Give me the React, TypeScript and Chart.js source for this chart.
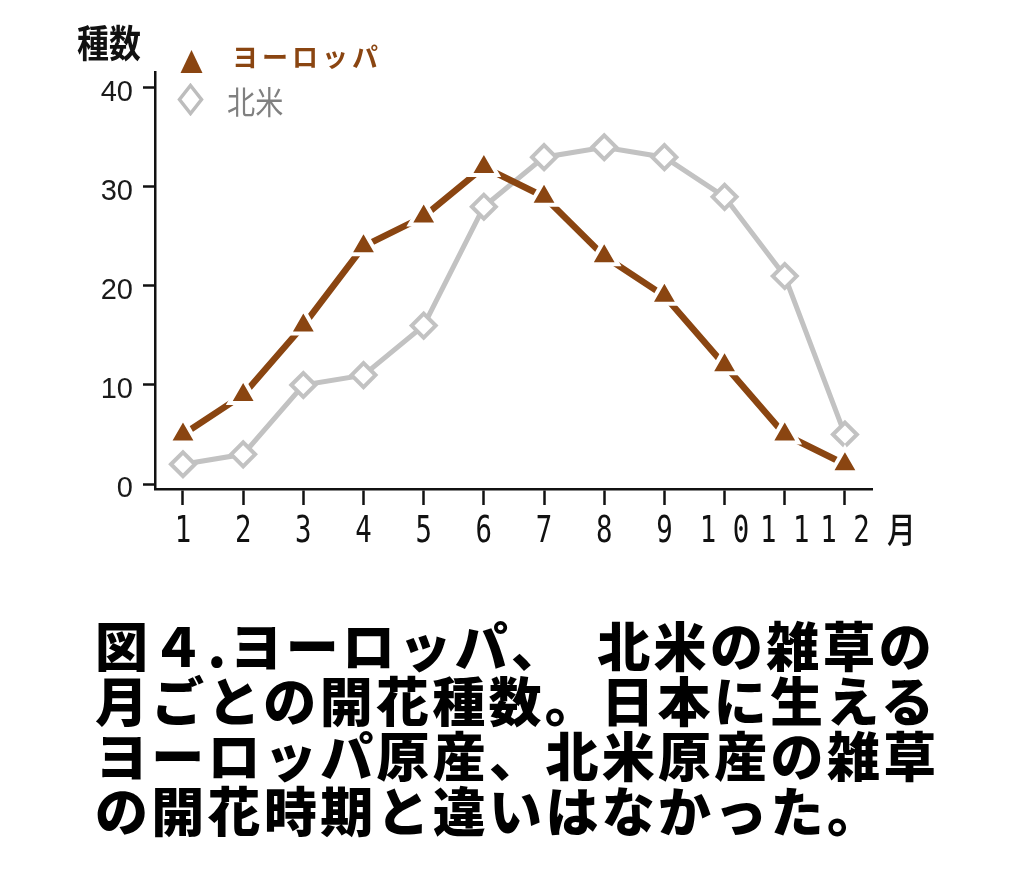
import React, { useEffect, useRef } from "react";
import { Chart, registerables } from "chart.js";

Chart.register(...registerables);

const months = [1, 2, 3, 4, 5, 6, 7, 8, 9, 10, 11, 12];
const monthLabels = ["1", "2", "3", "4", "5", "6", "7", "8", "9", "1 0", "1 1", "1 2"];
const europe = [5, 9, 16, 24, 27, 32, 29, 23, 19, 12, 5, 2];
const northAmerica = [2, 3, 10, 11, 16, 28, 33, 34, 33, 29, 21, 5];
const yTicks = [0, 10, 20, 30, 40];

const BROWN = "#8a4511";
const GRAY = "#c2c2c2";

const xLabelPlugin = {
  id: "xLabelPlugin",
  afterDraw(chart: any) {
    const s = chart.scales.x;
    const ctx = chart.ctx;
    const y = s.bottom - s.height + 53;
    ctx.save();
    ctx.font = "37px 'DejaVu Sans Mono'";
    ctx.fillStyle = "#111";
    ctx.textAlign = "center";
    ctx.textBaseline = "alphabetic";
    months.forEach((m, i) => {
      const x = s.getPixelForValue(m);
      ctx.save();
      ctx.translate(x, y);
      ctx.scale(0.74, 1);
      ctx.fillText(monthLabels[i], 0, 0);
      ctx.restore();
    });
    ctx.restore();
  },
};

export default function App() {
  const ref = useRef<HTMLCanvasElement | null>(null);

  useEffect(() => {
    if (!ref.current) return;
    const chart = new Chart(ref.current, {
      type: "line",
      data: {
        datasets: [
          {
            label: "ヨーロッパ",
            data: months.map((m, i) => ({ x: m, y: europe[i] })),
            borderColor: BROWN,
            borderWidth: 6.5,
            pointStyle: "triangle",
            pointRadius: 16,
            pointBackgroundColor: BROWN,
            pointBorderColor: "#ffffff",
            pointBorderWidth: 4,
            tension: 0,
            order: 1,
          },
          {
            label: "北米",
            data: months.map((m, i) => ({ x: m, y: northAmerica[i] })),
            borderColor: GRAY,
            borderWidth: 5,
            pointStyle: "rectRot",
            pointRadius: 12,
            pointBackgroundColor: "#ffffff",
            pointBorderColor: GRAY,
            pointBorderWidth: 4,
            tension: 0,
            order: 2,
          },
        ],
      },
      options: {
        animation: false,
        responsive: false,
        maintainAspectRatio: false,
        layout: { padding: { left: 0, right: 155, top: 72, bottom: 31 } },
        plugins: { legend: { display: false }, tooltip: { enabled: false } },
        scales: {
          x: {
            type: "linear",
            min: 0.535,
            max: 12.45,
            afterBuildTicks: (s: any) => {
              s.ticks = months.map((v) => ({ value: v }));
            },
            afterFit: (s: any) => {
              s.height = 60;
            },
            border: { color: "#111", width: 2.5 },
            grid: { drawOnChartArea: false, tickLength: 16, tickColor: "#111", tickWidth: 2.5 },
            ticks: { display: false },
          },
          y: {
            type: "linear",
            min: -0.5,
            max: 41.6,
            afterBuildTicks: (s: any) => {
              s.ticks = yTicks.map((v) => ({ value: v }));
            },
            afterFit: (s: any) => {
              s.width = 155;
            },
            border: { color: "#111", width: 2.5 },
            grid: { drawOnChartArea: false, tickLength: 12, tickColor: "#111", tickWidth: 2.5 },
            ticks: {
              padding: 10,
              color: "#1a1a1a",
              labelOffset: 5,
              font: { family: "'Liberation Sans'", size: 29 },
            },
          },
        },
      },
      plugins: [xLabelPlugin],
    });
    return () => chart.destroy();
  }, []);

  const jp = "'Noto Sans CJK JP', sans-serif";

  return (
    <div style={{ position: "absolute", left: 0, top: 0, width: 1027, height: 884, background: "#fff" }}>
      <canvas ref={ref} width={1027} height={580} style={{ position: "absolute", left: 0, top: 0, width: 1027, height: 580 }} />
      <div
        style={{
          position: "absolute",
          left: 77,
          top: 18,
          fontFamily: jp,
          fontWeight: 700,
          fontSize: 38,
          color: "#111",
          lineHeight: "46px",
          transform: "scaleX(0.84)",
          transformOrigin: "left center",
          whiteSpace: "nowrap",
        }}
      >
        種数
      </div>
      <svg style={{ position: "absolute", left: 180, top: 49 }} width={23} height={25}>
        <polygon points="11.5,1 22.5,24 0.5,24" fill={BROWN} />
      </svg>
      <div
        style={{
          position: "absolute",
          left: 232,
          top: 41,
          fontFamily: jp,
          fontWeight: 700,
          fontSize: 26,
          color: BROWN,
          letterSpacing: 4,
          lineHeight: "30px",
          whiteSpace: "nowrap",
        }}
      >
        ヨーロッパ
      </div>
      <svg style={{ position: "absolute", left: 177, top: 83 }} width={27} height={33}>
        <polygon points="13.5,2.5 24.5,16.5 13.5,30.5 2.5,16.5" fill="#fff" stroke="#bdbdbd" strokeWidth={3.5} />
      </svg>
      <div
        style={{
          position: "absolute",
          left: 227,
          top: 81,
          fontFamily: jp,
          fontWeight: 400,
          fontSize: 32,
          color: "#808080",
          lineHeight: "38px",
          transform: "scaleX(0.88)",
          transformOrigin: "left center",
          whiteSpace: "nowrap",
        }}
      >
        北米
      </div>
      <div
        style={{
          position: "absolute",
          left: 887,
          top: 505,
          fontFamily: jp,
          fontWeight: 500,
          fontSize: 35,
          color: "#111",
          lineHeight: "46px",
          transform: "scaleX(0.82)",
          transformOrigin: "left center",
        }}
      >
        月
      </div>
      <div
        style={{
          position: "absolute",
          left: 95,
          top: 617,
          fontFamily: jp,
          fontWeight: 900,
          fontSize: 53,
          lineHeight: "55px",
          letterSpacing: 3.3,
          color: "#000",
          whiteSpace: "pre",
        }}
      >
        {"図４.ヨーロッパ、"}
        <span style={{ display: "inline-block", width: 30 }} />
        {"北米の雑草の\n月ごとの開花種数。日本に生える\nヨーロッパ原産、北米原産の雑草\nの開花時期と違いはなかった。"}
      </div>
    </div>
  );
}
